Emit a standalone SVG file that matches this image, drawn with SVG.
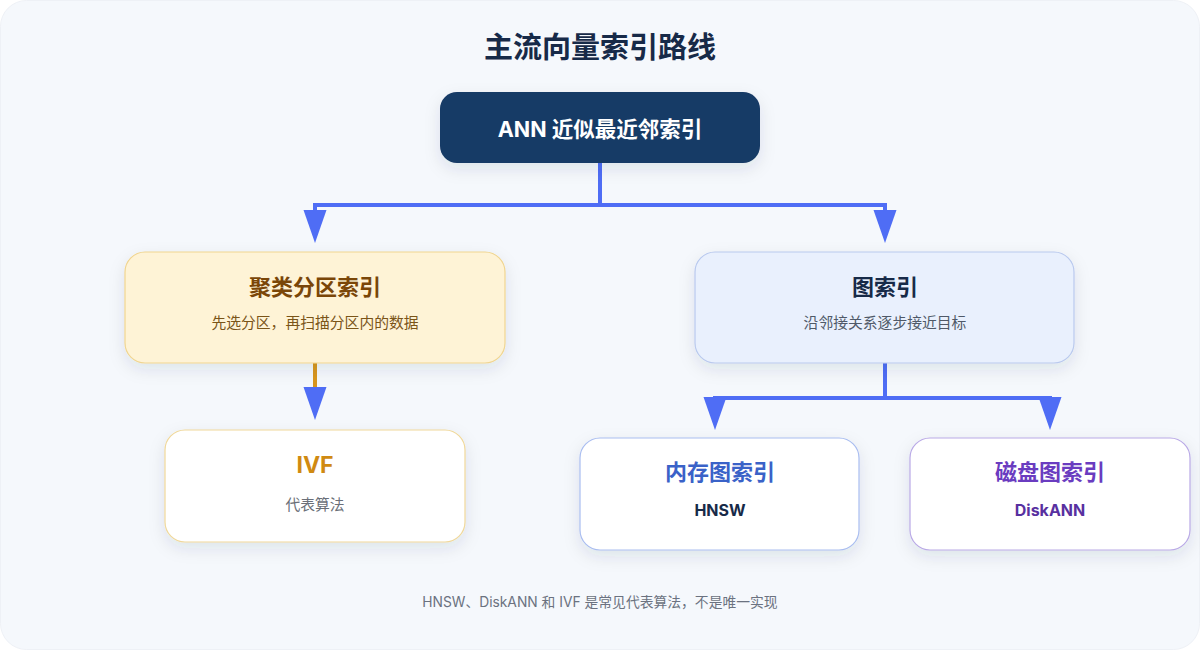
<svg xmlns="http://www.w3.org/2000/svg" width="1200" height="650" viewBox="0 0 1200 650">
<style>
text{font-family:Inter,"Noto Sans CJK SC","Noto Sans",sans-serif;text-anchor:middle}
.t{font-weight:700}
.conn{fill:none;stroke:#4f6df5;stroke-width:4}
.head{fill:#4f6df5}
</style>
<defs>
<filter id="sh" x="-20%" y="-30%" width="140%" height="170%">
<feDropShadow dx="0" dy="6" stdDeviation="8" flood-color="#1b2a4a" flood-opacity="0.10"/>
</filter>
</defs>
<rect x="0" y="0" width="1200" height="650" fill="#ffffff"/>
<rect x="0.5" y="0.5" width="1199" height="649" rx="26" fill="#f5f8fc" stroke="#eef1f6"/>
<text x="600" y="58" class="t" font-size="29" fill="#172a48">主流向量索引路线</text>

<g id="connectors">
<path class="conn" d="M600 163 V205 M313 205 H887 M315 205 V212 M885 205 V212"/>
<polygon class="head" points="303.5,210 326.5,210 315,243"/>
<polygon class="head" points="873.5,210 896.5,210 885,243"/>
<path fill="none" stroke="#d9961e" stroke-width="4" d="M315 363 V388"/>
<polygon class="head" points="303.5,387 326.5,387 315,420"/>
<path class="conn" d="M885 363 V398 M713 398 H1052 M715 398 V402 M1050 398 V402"/>
<polygon class="head" points="703.5,397 726.5,397 715,430"/>
<polygon class="head" points="1038.5,397 1061.5,397 1050,430"/>
</g>

<g id="ann">
<rect x="440" y="92" width="320" height="71" rx="17" fill="#183a66" filter="url(#sh)"/>
<text x="600" y="137" class="t" font-size="21.5" fill="#ffffff">ANN 近似最近邻索引</text>
</g>

<g id="cluster">
<rect x="125" y="252" width="380" height="111" rx="20" fill="#fef3d6" stroke="#f0d590" stroke-width="1.2" filter="url(#sh)"/>
<text x="315" y="295" class="t" font-size="22" fill="#7a4608">聚类分区索引</text>
<text x="315" y="328" font-size="14.8" fill="#7a5418">先选分区，再扫描分区内的数据</text>
</g>

<g id="ivf">
<rect x="165" y="430" width="300" height="112" rx="20" fill="#ffffff" stroke="#f0d89a" stroke-width="1.2" filter="url(#sh)"/>
<text x="315" y="473" class="t" font-size="23" fill="#d08a12">IVF</text>
<text x="315" y="510" font-size="14.8" fill="#6b6f78">代表算法</text>
</g>

<g id="graph">
<rect x="695" y="252" width="379" height="111" rx="20" fill="#e9f0fd" stroke="#b9c9ee" stroke-width="1.2" filter="url(#sh)"/>
<text x="885" y="295" class="t" font-size="22" fill="#172a48">图索引</text>
<text x="885" y="328" font-size="14.8" fill="#4f5968">沿邻接关系逐步接近目标</text>
</g>

<g id="memory">
<rect x="580" y="438" width="279" height="112" rx="20" fill="#ffffff" stroke="#a9bdf0" stroke-width="1.2" filter="url(#sh)"/>
<text x="720" y="480" class="t" font-size="22" fill="#3a62c8">内存图索引</text>
<text x="720" y="516" class="t" font-size="16" fill="#172a48">HNSW</text>
</g>

<g id="disk">
<rect x="910" y="438" width="280" height="112" rx="20" fill="#ffffff" stroke="#b9a9e6" stroke-width="1.2" filter="url(#sh)"/>
<text x="1050" y="480" class="t" font-size="22" fill="#6a3cc0">磁盘图索引</text>
<text x="1050" y="516" class="t" font-size="16" fill="#5830a0">DiskANN</text>
</g>

<text x="600" y="607" font-size="13.8" fill="#6b7280">HNSW、DiskANN 和 IVF 是常见代表算法，不是唯一实现</text>
</svg>
